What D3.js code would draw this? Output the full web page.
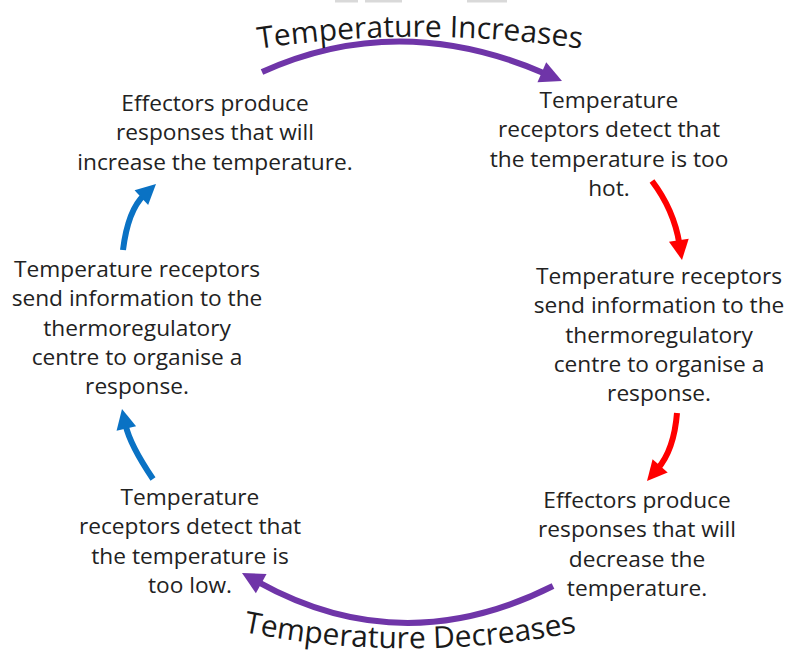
<!DOCTYPE html>
<html>
<head>
<meta charset="utf-8">
<script src="https://cdn.jsdelivr.net/npm/d3@7"></script>
<style>
  body { margin: 0; background: #fff; }
  svg { display: block; }
  .step { font-family: "Open Sans", sans-serif; font-size: 22.7px; fill: #222; }
  .phase { font-family: "Open Sans", sans-serif; font-size: 30px; fill: #1a1a1a; }
</style>
</head>
<body>
<script>
'use strict'

// text of each step, clockwise from top right
const steps = [
  ['Temperature', 'receptors detect that', 'the temperature is too', 'hot.'],
  ['Temperature receptors', 'send information to the', 'thermoregulatory', 'centre to organise a', 'response.'],
  ['Effectors produce', 'responses that will', 'decrease the', 'temperature.'],
  ['Temperature', 'receptors detect that', 'the temperature is', 'too low.'],
  ['Temperature receptors', 'send information to the', 'thermoregulatory', 'centre to organise a', 'response.'],
  ['Effectors produce', 'responses that will', 'increase the temperature.']
]
const phases = ['Temperature Increases', 'Temperature Decreases']
const arrowKinds = ['increase', 'hot', 'hot', 'decrease', 'cold', 'cold']

const width = 785
const height = 657
const lineHeight = 29.3

// layout: centre x and first baseline of each step
const stepPos = [[609, 108], [659, 284], [637, 508], [190, 505], [137, 277], [215, 111]]

// arrows: start, control, tip
const arrowPos = [
  [[262, 72], [399, 10], [562, 81]],
  [[652, 181], [674, 210], [682, 260]],
  [[677, 413], [674, 450], [647, 481]],
  [[553, 586], [402, 662], [242, 573]],
  [[153, 479], [130, 445], [122, 409]],
  [[123, 250], [128, 210], [156, 184]]
]

const color = d3.scaleOrdinal()
  .domain(['increase', 'hot', 'decrease', 'cold'])
  .range(['#6f35a8', '#ff0000', '#6f35a8', '#0a72c4'])

const svg = d3.select('body').append('svg')
  .attr('width', width)
  .attr('height', height)

// cropped bits at the very top of the original image
svg.selectAll('.crop')
  .data([[335, 358], [365, 402], [467, 507]])
  .enter().append('rect')
    .attr('x', d => d[0])
    .attr('y', 0)
    .attr('width', d => d[1] - d[0])
    .attr('height', 2.5)
    .attr('fill', '#d9d9d9')

const line = d3.line().curve(d3.curveLinear)

arrowPos.forEach((a, i) => {
  const [p0, c, tip] = a
  const isPurple = i === 0 || i === 3
  const headLen = isPurple ? 22 : 20
  const headW = isPurple ? 22 : 20
  const dx = tip[0] - c[0], dy = tip[1] - c[1]
  const len = Math.hypot(dx, dy)
  const ux = dx / len, uy = dy / len
  const base = [tip[0] - ux * headLen * 0.8, tip[1] - uy * headLen * 0.8]
  const baseH = [tip[0] - ux * headLen, tip[1] - uy * headLen]
  const p = d3.path()
  p.moveTo(p0[0], p0[1])
  p.quadraticCurveTo(c[0], c[1], base[0], base[1])
  svg.append('path')
    .attr('d', p.toString())
    .attr('fill', 'none')
    .attr('stroke', color(arrowKinds[i]))
    .attr('stroke-width', 6)
  svg.append('path')
    .attr('d', line([
      tip,
      [baseH[0] - uy * headW / 2, baseH[1] + ux * headW / 2],
      [baseH[0] + uy * headW / 2, baseH[1] - ux * headW / 2]
    ]) + 'Z')
    .attr('fill', color(arrowKinds[i]))
})

// step texts
steps.forEach((lines, i) => {
  const t = svg.append('text')
    .attr('class', 'step')
    .attr('text-anchor', 'middle')
  t.selectAll('tspan')
    .data(lines)
    .enter().append('tspan')
      .attr('x', stepPos[i][0])
      .attr('y', (d, j) => stepPos[i][1] + j * lineHeight)
      .text(d => d)
})

// curved phase labels
const defs = svg.append('defs')
const arcPaths = [
  'M 200 59 A 1100 1100 0 0 1 640 59',
  'M 180 617 A 860 860 0 0 0 640 617'
]
arcPaths.forEach((d, i) => {
  defs.append('path').attr('id', 'arc' + i).attr('d', d)
  svg.append('text')
    .attr('class', 'phase')
    .append('textPath')
      .attr('href', '#arc' + i)
      .attr('startOffset', '50%')
      .attr('text-anchor', 'middle')
      .text(phases[i])
})
</script>
</body>
</html>
